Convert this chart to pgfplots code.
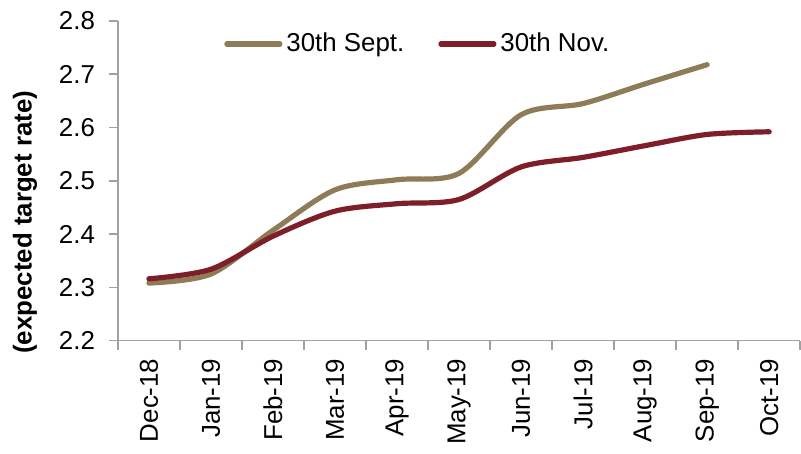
\documentclass[border=0pt]{standalone}
\usepackage{fontspec}
\setmainfont{Liberation Sans}
\usepackage{pgfplots}
\pgfplotsset{compat=1.18}
\definecolor{septtan}{RGB}{142,123,88}
\definecolor{novred}{RGB}{126,30,40}
\definecolor{axisgray}{RGB}{160,160,160}

\begin{document}
\fontsize{13}{15.6}\selectfont
\begin{tikzpicture}
\begin{axis}[
  scale only axis, width=341.5bp, height=160bp,
  xmin=-0.5, xmax=10.5, ymin=2.2, ymax=2.8,
  axis x line*=bottom, axis y line*=left,
  axis line style={axisgray, line width=0.8bp, -},
  tick align=outside,
  major tick length=4.5bp, minor tick length=4.5bp,
  tick style={axisgray, line width=0.8bp},
  every major x tick/.append style={draw=none},
  ytick={2.2,2.3,2.4,2.5,2.6,2.7,2.8},
  yticklabel style={xshift=-2.5bp, /pgf/number format/.cd, fixed, fixed zerofill, precision=1, assume math mode=true},
  xtick={0,1,2,3,4,5,6,7,8,9,10},
  xticklabels={Dec-18,Jan-19,Feb-19,Mar-19,Apr-19,May-19,Jun-19,Jul-19,Aug-19,Sep-19,Oct-19},
  minor xtick={-0.5,0.5,1.5,2.5,3.5,4.5,5.5,6.5,7.5,8.5,9.5,10.5},
  xticklabel style={rotate=90, anchor=east},
  ylabel={\bfseries (expected target rate)},
  ylabel style={at={(rel axis cs:-0.136,0.37)}, anchor=center},
  legend style={at={(rel axis cs:0.441,0.928)}, anchor=center, draw=none, fill=none,
    legend columns=2, font=\fontsize{13}{15.6}\selectfont,
    /tikz/every even column/.append style={column sep=15bp}},
  legend image code/.code={\draw[#1, line cap=round] (0bp,0bp) -- (26.5bp,0bp);},
  clip=false,
]
\addplot[septtan, line width=2.6bp, smooth, line cap=round] coordinates {
  (0,2.308) (1,2.325) (2,2.407) (3,2.483) (4,2.502) (5,2.514)
  (6,2.624) (7,2.645) (8,2.682) (9,2.718)};
\addlegendentry{30th Sept.}
\addplot[novred, line width=2.6bp, smooth, line cap=round] coordinates {
  (0,2.316) (1,2.334) (2,2.396) (3,2.443) (4,2.457) (5,2.465)
  (6,2.526) (7,2.544) (8,2.566) (9,2.587) (10,2.592)};
\addlegendentry{30th Nov.}
\path (rel axis cs:-0.1728,-0.328) rectangle (rel axis cs:1,1.0656);
\end{axis}
\end{tikzpicture}
\end{document}
